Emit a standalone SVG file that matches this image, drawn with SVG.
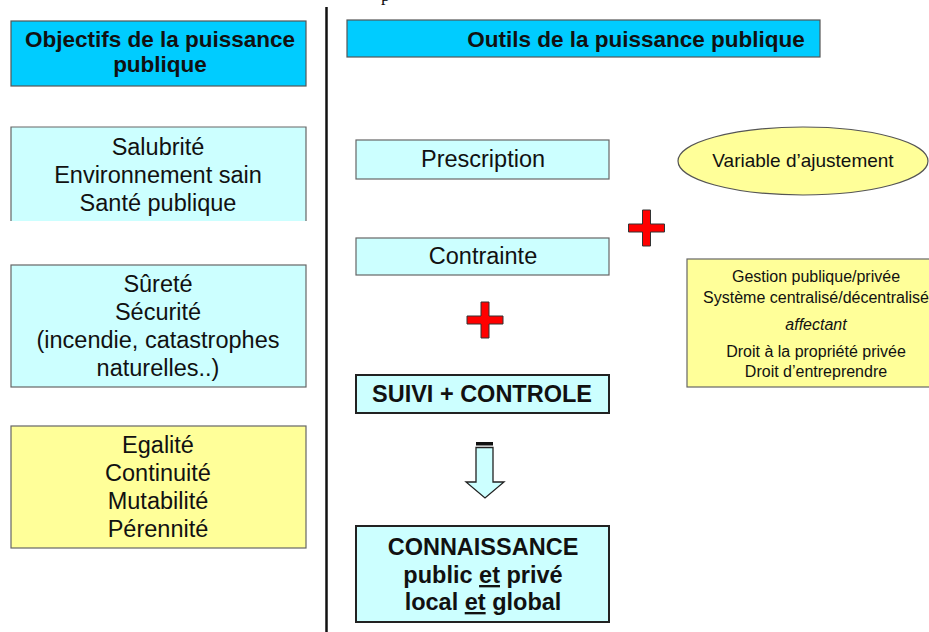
<svg xmlns="http://www.w3.org/2000/svg" xmlns:xlink="http://www.w3.org/1999/xlink" width="929" height="632" viewBox="0 0 929 632">
<style>
text{font-family:"Liberation Sans",Arial,sans-serif;fill:#111;text-anchor:middle}
.hdr{fill:#00ccff;stroke:#555;stroke-width:1.2}
.cyan{fill:#ccffff;stroke:#666;stroke-width:1.2}
.yel{fill:#ffff99;stroke:#666;stroke-width:1.2}
.strong{fill:#ccffff;stroke:#222;stroke-width:2}
.b22{font-size:22.5px;font-weight:bold}
.r23{font-size:23.5px}
.b23{font-size:23.5px;font-weight:bold}
.r16{font-size:16px}
.plus{fill:#ff0000;stroke:#333;stroke-width:1}
</style>
<defs>
<path id="plus" class="plus" d="M-4,-18H4V-4H18V4H4V18H-4V4H-18V-4H-4Z"/>
</defs>
<rect width="929" height="632" fill="#fff"/>
<text x="381" y="1" style="font-family:'Liberation Serif',serif;font-size:18px;text-anchor:start">p</text>
<line id="separator" x1="326.5" y1="7" x2="326.5" y2="632" stroke="#111" stroke-width="2.5"/>
<g id="hdr-objectifs">
<rect class="hdr" x="11" y="21" width="295" height="65"/>
<text class="b22" x="160" y="47">Objectifs de la puissance</text>
<text class="b22" x="160" y="72">publique</text>
</g>
<g id="hdr-outils">
<rect class="hdr" x="347" y="20" width="473" height="37"/>
<text class="b22" x="636" y="47">Outils de la puissance publique</text>
</g>
<g id="obj-salubrite">
<rect x="11" y="127" width="295" height="94" fill="#ccffff"/>
<path d="M11,221V127H306V221" fill="none" stroke="#666" stroke-width="1.2"/>
<text class="r23" x="158" y="155">Salubrité</text>
<text class="r23" x="158" y="183">Environnement sain</text>
<text class="r23" x="158" y="211">Santé publique</text>
</g>
<g id="obj-surete">
<rect class="cyan" x="11" y="265" width="295" height="122"/>
<text class="r23" x="158" y="292">Sûreté</text>
<text class="r23" x="158" y="320">Sécurité</text>
<text class="r23" x="158" y="348">(incendie, catastrophes</text>
<text class="r23" x="158" y="376">naturelles..)</text>
</g>
<g id="obj-egalite">
<rect class="yel" x="11" y="426" width="295" height="122"/>
<text class="r23" x="158" y="453">Egalité</text>
<text class="r23" x="158" y="481">Continuité</text>
<text class="r23" x="158" y="509">Mutabilité</text>
<text class="r23" x="158" y="537">Pérennité</text>
</g>
<g id="prescription">
<rect class="cyan" x="356" y="140" width="253" height="39"/>
<text class="r23" x="483" y="167">Prescription</text>
</g>
<g id="contrainte">
<rect class="cyan" x="356" y="238" width="253" height="37"/>
<text class="r23" x="483" y="264">Contrainte</text>
</g>
<g id="suivi">
<rect class="strong" x="356" y="375" width="253" height="38"/>
<text class="b23" x="482" y="402">SUIVI + CONTROLE</text>
</g>
<g id="connaissance">
<rect class="strong" x="356" y="526" width="253" height="96"/>
<text class="b23" x="483" y="555">CONNAISSANCE</text>
<text class="b23" x="483" y="583">public <tspan text-decoration="underline">et</tspan> privé</text>
<text class="b23" x="483" y="610">local <tspan text-decoration="underline">et</tspan> global</text>
</g>
<g id="variable">
<ellipse cx="803" cy="161" rx="125" ry="34" fill="#ffff99" stroke="#555" stroke-width="1.2"/>
<text x="803" y="167" style="font-size:19px">Variable d’ajustement</text>
</g>
<g id="gestion">
<rect class="yel" x="687" y="259" width="260" height="128"/>
<text class="r16" x="816" y="282">Gestion publique/privée</text>
<text class="r16" x="816" y="303">Système centralisé/décentralisé</text>
<text class="r16" x="816" y="330" font-style="italic">affectant</text>
<text class="r16" x="816" y="357">Droit à la propriété privée</text>
<text class="r16" x="816" y="377">Droit d’entreprendre</text>
</g>
<g id="connectors">
<use xlink:href="#plus" href="#plus" x="485" y="320"/>
<use xlink:href="#plus" href="#plus" x="646.5" y="228"/>
<rect x="476" y="442" width="17" height="3.5" fill="#111"/>
<path d="M476,447.5H493V482H504L485,498L466,482H476Z" fill="#ccffff" stroke="#222" stroke-width="1.3"/>
</g>
</svg>
